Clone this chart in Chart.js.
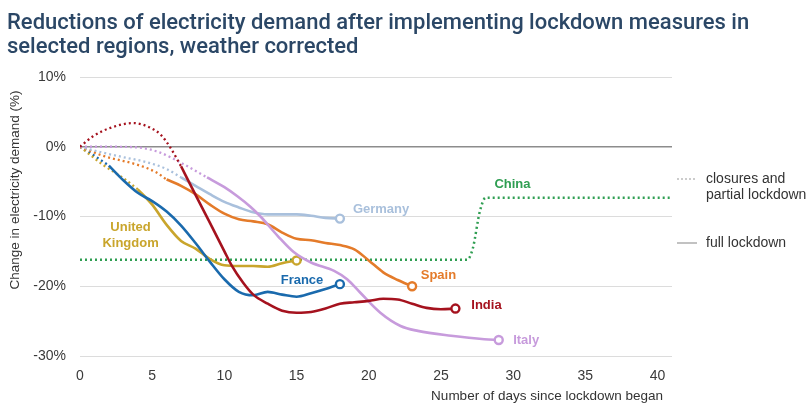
<!DOCTYPE html>
<html>
<head>
<meta charset="utf-8">
<script src="https://cdn.jsdelivr.net/npm/chart.js@4.4.1/dist/chart.umd.min.js"></script>
<style>
  html, body { margin: 0; padding: 0; background: #ffffff; }
  #wrap { width: 812px; height: 411px; position: relative; }
</style>
</head>
<body>
<div id="wrap"><canvas id="c" width="812" height="411"></canvas></div>
<script>
// Change in electricity demand (%) by number of days since lockdown began.
// "partial" = closures and partial lockdown (dotted), "full" = full lockdown (solid).

const xTicks = [0, 5, 10, 15, 20, 25, 30, 35, 40];
const yTicks = [10, 0, -10, -20, -30];

const chinaDays    = [0, 26.8, 27.2, 27.7, 28.1, 41];
const chinaPartial = [-16.2, -16.2, -14.6, -9.2, -7.3, -7.3];

const indiaPartialDays = [0, 0.9, 2.1, 3.7, 4.9, 5.6, 6.25, 7];
const indiaPartial     = [0, 1.5, 2.7, 3.4, 2.7, 1.7, -0.1, -2.8];
const indiaFullDays = [7, 8, 9, 10, 10.5, 11.3, 12, 13, 14, 15, 16, 17, 18, 19, 20, 21, 22, 23, 24, 25, 26];
const indiaFull     = [-2.8, -6.9, -10.9, -15, -17, -19.5, -21.2, -22.5, -23.5, -23.8, -23.7, -23.2, -22.5, -22.3, -22.1, -21.8, -21.9, -22.5, -23.1, -23.3, -23.2];

const italyPartialDays = [0, 2, 4, 5.5, 7, 8.8];
const italyPartial     = [0, 0, -0.1, -0.8, -2.3, -4.4];
const italyFullDays = [8.8, 10, 10.9, 11.8, 12.5, 13.7, 14.8, 16, 17.6, 18.5, 19.4, 20.8, 22.2, 23.4, 25.7, 28, 29];
const italyFull     = [-4.4, -5.8, -7.1, -8.6, -10, -12.8, -15.1, -16.6, -17.8, -19, -20.9, -23.8, -25.7, -26.4, -27.1, -27.6, -27.7];

const germanyPartialDays = [0, 1.5, 3, 4.6, 6, 7];
const germanyPartial     = [0, -0.8, -1.5, -2.2, -3.2, -4.4];
const germanyFullDays = [7, 8, 9, 10, 11, 12, 13, 14, 15, 16, 17, 18];
const germanyFull     = [-4.4, -5.6, -6.8, -7.9, -8.7, -9.4, -9.7, -9.7, -9.7, -9.9, -10.2, -10.3];

const spainPartialDays = [0, 1.6, 4, 5.3, 6];
const spainPartial     = [0, -1.3, -2.6, -3.7, -4.7];
const spainFullDays = [6, 7, 8, 9, 10, 11, 12, 13, 14, 15, 16, 17, 18, 19, 20, 21, 22, 23];
const spainFull     = [-4.7, -5.6, -6.8, -8.3, -9.6, -10.4, -10.7, -11.1, -12.3, -13.2, -13.4, -13.8, -14.1, -14.7, -16.3, -18, -19.1, -20];

const ukPartialDays = [0, 1.6, 3, 4];
const ukPartial     = [0, -2.6, -4.5, -6.1];
const ukFullDays = [4, 5, 6, 7, 8, 9, 10, 11, 12, 13, 14, 15];
const ukFull     = [-6.1, -8.3, -11.2, -13.5, -14.6, -16.1, -17, -17.1, -17.1, -17.2, -16.7, -16.3];

const francePartialDays = [0, 1, 2];
const francePartial     = [0, -1.3, -2.7];
const franceFullDays = [2, 3, 4, 5, 6, 7, 8, 9, 10, 11, 12, 13, 14, 15, 16, 17, 18];
const franceFull     = [-2.7, -4.8, -6.6, -7.8, -9.3, -11.3, -13.8, -16.5, -19, -20.8, -21.3, -20.8, -21.2, -21.5, -21, -20.4, -19.7];

const COLORS = {
  china: '#2f9e52',
  india: '#a5121e',
  italy: '#c79bdc',
  germany: '#a9c0dc',
  spain: '#e47b2a',
  uk: '#c9a52c',
  france: '#1a6aad'
};

const FONT = "'Liberation Sans', Arial, sans-serif";

function pts(days, vals) {
  return days.map((d, i) => ({ x: d, y: vals[i] }));
}

function dotted(days, vals, color, width) {
  return {
    data: pts(days, vals),
    borderColor: color,
    borderWidth: width || 2.3,
    borderDash: [2, 3],
    pointRadius: 0,
    fill: false,
    cubicInterpolationMode: 'monotone'
  };
}

function solid(days, vals, color) {
  const last = days.length - 1;
  return {
    data: pts(days, vals),
    borderColor: color,
    borderWidth: 2.6,
    pointRadius: ctx => (ctx.dataIndex === last ? 4 : 0),
    pointBackgroundColor: '#ffffff',
    pointBorderColor: color,
    pointBorderWidth: 2.4,
    fill: false,
    cubicInterpolationMode: 'monotone'
  };
}

const datasets = [
  solid(indiaFullDays, indiaFull, COLORS.india),
  solid(franceFullDays, franceFull, COLORS.france),
  solid(italyFullDays, italyFull, COLORS.italy),
  solid(spainFullDays, spainFull, COLORS.spain),
  solid(ukFullDays, ukFull, COLORS.uk),
  solid(germanyFullDays, germanyFull, COLORS.germany),
  dotted(indiaPartialDays, indiaPartial, COLORS.india),
  dotted(italyPartialDays, italyPartial, COLORS.italy),
  dotted(germanyPartialDays, germanyPartial, COLORS.germany),
  dotted(spainPartialDays, spainPartial, COLORS.spain),
  dotted(ukPartialDays, ukPartial, COLORS.uk),
  dotted(francePartialDays, francePartial, COLORS.france),
  dotted(chinaDays, chinaPartial, COLORS.china, 2.5)
];

// Region names placed in data coordinates (left edge / middle).
const regionLabels = [
  { text: ['Germany'], x: 18.9, y: -9.0, color: COLORS.germany, align: 'left' },
  { text: ['China'], x: 28.7, y: -5.4, color: COLORS.china, align: 'left' },
  { text: ['Spain'], x: 23.6, y: -18.5, color: COLORS.spain, align: 'left' },
  { text: ['India'], x: 27.1, y: -22.8, color: COLORS.india, align: 'left' },
  { text: ['Italy'], x: 30.0, y: -27.7, color: COLORS.italy, align: 'left' },
  { text: ['France'], x: 13.9, y: -19.1, color: COLORS.france, align: 'left' },
  { text: ['United', 'Kingdom'], x: 3.5, y: -11.6, color: COLORS.uk, align: 'center' }
];

const decorations = {
  id: 'decorations',
  beforeDraw(chart) {
    const ctx = chart.ctx;
    ctx.save();
    ctx.fillStyle = '#ffffff';
    ctx.fillRect(0, 0, chart.width, chart.height);
    ctx.restore();
  },
  afterDatasetsDraw(chart) {
    const ctx = chart.ctx;
    const xs = chart.scales.x, ys = chart.scales.y;
    ctx.save();
    ctx.font = "bold 13px " + FONT;
    ctx.textBaseline = 'middle';
    regionLabels.forEach(l => {
      ctx.fillStyle = l.color;
      ctx.textAlign = l.align;
      const px = xs.getPixelForValue(l.x);
      const py = ys.getPixelForValue(l.y);
      l.text.forEach((t, i) => ctx.fillText(t, px, py + i * 15.5));
    });
    ctx.restore();
  },
  afterDraw(chart) {
    const ctx = chart.ctx;
    ctx.save();

    // Title, condensed to the width of the block
    ctx.fillStyle = '#2b4766';
    ctx.textBaseline = 'alphabetic';
    ctx.textAlign = 'left';
    ctx.font = "500 22px Roboto, " + FONT;
    const line1 = 'Reductions of electricity demand after implementing lockdown measures in';
    const line2 = 'selected regions, weather corrected';
    const w1 = ctx.measureText(line1).width;
    const sx = Math.min(1, 750 / w1);
    ctx.save();
    ctx.translate(7, 0);
    ctx.scale(sx, 1);
    ctx.fillText(line1, 0, 29);
    ctx.fillText(line2, 0, 53);
    ctx.restore();

    // Axis titles
    ctx.fillStyle = '#333333';
    ctx.font = "13.5px " + FONT;
    ctx.textBaseline = 'middle';
    ctx.save();
    ctx.translate(15, 190);
    ctx.rotate(-Math.PI / 2);
    ctx.textAlign = 'center';
    ctx.fillText('Change in electricity demand (%)', 0, 0);
    ctx.restore();

    ctx.textAlign = 'right';
    ctx.fillText('Number of days since lockdown began', 663, 396);

    // Line-style key
    ctx.strokeStyle = '#9a9a9a';
    ctx.lineWidth = 1.2;
    ctx.setLineDash([2, 2]);
    ctx.beginPath(); ctx.moveTo(677, 179); ctx.lineTo(697, 179); ctx.stroke();
    ctx.setLineDash([]);
    ctx.beginPath(); ctx.moveTo(677, 243); ctx.lineTo(697, 243); ctx.stroke();

    ctx.fillStyle = '#333333';
    ctx.font = "14px " + FONT;
    ctx.textAlign = 'left';
    ctx.fillText('closures and', 706, 179);
    ctx.fillText('partial lockdown', 706, 195);
    ctx.fillText('full lockdown', 706, 243);

    ctx.restore();
  }
};

new Chart(document.getElementById('c'), {
  type: 'line',
  data: { datasets },
  options: {
    responsive: false,
    animation: false,
    events: [],
    layout: { padding: { top: 77, left: 0, right: 140, bottom: 0 } },
    plugins: {
      legend: { display: false },
      tooltip: { enabled: false },
      title: { display: false }
    },
    scales: {
      x: {
        type: 'linear',
        min: 0,
        max: 41,
        afterBuildTicks: s => { s.ticks = xTicks.map(v => ({ value: v })); },
        afterFit: s => { s.height = 55; },
        ticks: {
          color: '#3a3a3a',
          font: { family: FONT, size: 14 },
          padding: 12,
          maxRotation: 0,
          autoSkip: false
        },
        grid: { display: false, drawTicks: false },
        border: { display: false }
      },
      y: {
        min: -30,
        max: 10,
        afterBuildTicks: s => { s.ticks = yTicks.map(v => ({ value: v })); },
        afterFit: s => { s.width = 80; },
        ticks: {
          color: '#3a3a3a',
          font: { family: FONT, size: 14 },
          padding: 14,
          callback: v => v + '%'
        },
        grid: {
          drawTicks: false,
          color: c => (c.tick && c.tick.value === 0 ? '#8c8c8c' : '#dcdcdc'),
          lineWidth: c => (c.tick && c.tick.value === 0 ? 1.5 : 1)
        },
        border: { display: false }
      }
    }
  },
  plugins: [decorations]
});
</script>
</body>
</html>
